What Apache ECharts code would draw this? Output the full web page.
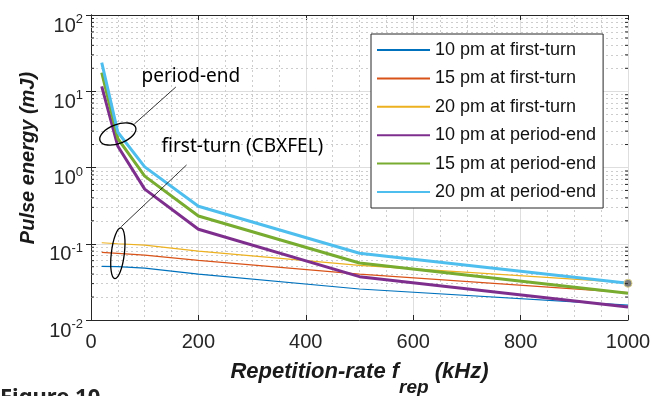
<!DOCTYPE html>
<html>
<head>
<meta charset="utf-8">
<script src="https://cdn.jsdelivr.net/npm/echarts@6/dist/echarts.min.js"></script>
<style>
html,body{margin:0;padding:0;background:#fff;}
#c{width:669px;height:396px;}
</style>
</head>
<body>
<div id="c"></div>
<script>
// ---- data ----
const xVals = [20, 50, 100, 200, 500, 1000];           // repetition rate (kHz)
const ft10 = [0.0506, 0.0500, 0.0478, 0.0400, 0.0255, 0.0157];
const ft15 = [0.0770, 0.0750, 0.0710, 0.0605, 0.0400, 0.0228];
const ft20 = [0.1030, 0.1000, 0.0960, 0.0800, 0.0520, 0.0310];
const pe10 = [11.6, 1.90, 0.52, 0.155, 0.0370, 0.0148];
const pe15 = [17.6, 2.40, 0.77, 0.231, 0.0560, 0.0224];
const pe20 = [23.7, 2.90, 1.02, 0.310, 0.0750, 0.0303];
const seriesNames = ['10 pm at first-turn','15 pm at first-turn','20 pm at first-turn',
                     '10 pm at period-end','15 pm at period-end','20 pm at period-end'];
const seriesData = [ft10, ft15, ft20, pe10, pe15, pe20];
const seriesColors = ['#0072BD','#D95319','#EDB120','#7E2F8E','#77AC30','#4DBEEE'];
const seriesWidths = [1.2, 1.2, 1.2, 3, 3, 3];
const xTickInterval = 200;
const yMin = 0.01, yMax = 100;
const xTitle = ['Repetition-rate f', 'rep', ' (kHz)'];
const yTitle = 'Pulse energy (mJ)';
const annoText = ['period-end', 'first-turn (CBXFEL)'];
const annoAnchor = [[50, 2.75], [50, 0.075]];   // ellipse centres in data coords
const figureCaption = 'Figure 10';

// minor log grid values (2..9 x 10^k)
const yMinor = [];
for (let k = -2; k <= 1; k++) for (let m = 2; m <= 9; m++) yMinor.push(m * Math.pow(10, k));

const chart = echarts.init(document.getElementById('c'), null, {renderer: 'canvas'});
const axisColor = '#262626';
const FONT = '"Liberation Sans", Arial, sans-serif';

const series = seriesData.map((arr, i) => ({
  name: seriesNames[i],
  type: 'line',
  data: xVals.map((x, j) => {
    if (i === 5 && j === xVals.length - 1) {
      return {value: [x, arr[j]], symbol: 'circle', symbolSize: 8,
              itemStyle: {color: '#7a7a7a', borderColor: '#d8d08a', borderWidth: 1}};
    }
    return [x, arr[j]];
  }),
  symbol: 'none',
  showSymbol: true,
  lineStyle: {color: seriesColors[i], width: seriesWidths[i]},
  itemStyle: {color: seriesColors[i]},
  emphasis: {disabled: true},
  z: 3
}));
series.push({
  name: 'minorgrid', type: 'line', data: [], silent: true, z: 1,
  markLine: {
    silent: true, symbol: 'none', z: 1, animation: false,
    label: {show: false},
    lineStyle: {color: '#cdcdcd', type: [2, 3], width: 1},
    emphasis: {disabled: true},
    data: yMinor.map(v => ({yAxis: v}))
  }
});

const option = {
  animation: false,
  backgroundColor: '#ffffff',
  grid: {left: 91, top: 15, width: 537, height: 305, show: false, containLabel: false, outerBoundsMode: 'none'},
  legend: {
    data: seriesNames, orient: 'vertical', left: 371, top: 34,
    itemWidth: 53, itemHeight: 14, itemGap: 8.4,
    padding: [6, 7, 6, 5],
    backgroundColor: '#ffffff', borderColor: axisColor, borderWidth: 1, borderRadius: 0,
    selectedMode: false,
    itemStyle: {color: 'rgba(0,0,0,0)', borderWidth: 0, opacity: 0},
    textStyle: {fontSize: 18, fontFamily: FONT, color: '#111', lineHeight: 20}
  },
  xAxis: [{
    type: 'value', min: 0, max: 1000, interval: xTickInterval, position: 'bottom',
    axisLine: {show: true, lineStyle: {color: axisColor, width: 1}},
    axisTick: {show: true, inside: true, length: 5, lineStyle: {color: axisColor}},
    axisLabel: {fontSize: 20, fontFamily: FONT, color: axisColor, margin: 12, formatter: v => String(v)},
    splitLine: {show: true, lineStyle: {color: '#dedede', width: 1}},
    minorTick: {show: false, splitNumber: 4},
    minorSplitLine: {show: true, lineStyle: {color: '#cdcdcd', type: [2, 3], width: 1}},
    name: '{a|' + xTitle[0] + '}{b|' + xTitle[1] + '}{a|' + xTitle[2] + '}',
    nameLocation: 'middle', nameGap: 41,
    nameTextStyle: {
      rich: {
        a: {fontSize: 22, fontFamily: FONT, fontWeight: 'bold', fontStyle: 'italic', color: '#1a1a1a', verticalAlign: 'top', lineHeight: 24},
        b: {fontSize: 19, fontFamily: FONT, fontWeight: 'bold', fontStyle: 'italic', color: '#1a1a1a', verticalAlign: 'top', lineHeight: 20, padding: [17, 0, 0, 0]}
      }
    }
  }, {
    type: 'value', min: 0, max: 1000, interval: xTickInterval, position: 'top',
    axisLine: {show: true, lineStyle: {color: axisColor, width: 1}},
    axisTick: {show: true, inside: true, length: 5, lineStyle: {color: axisColor}},
    axisLabel: {show: false}, splitLine: {show: false}
  }],
  yAxis: [{
    type: 'log', logBase: 10, min: yMin, max: yMax, position: 'left',
    axisLine: {show: true, lineStyle: {color: axisColor, width: 1}},
    axisTick: {show: true, inside: true, length: 5, lineStyle: {color: axisColor}},
    splitLine: {show: true, lineStyle: {color: '#dedede', width: 1}},
    axisLabel: {
      margin: 8, color: axisColor, padding: [10, 0, 0, 0],
      formatter: v => '{b|10}{s|' + Math.round(Math.log10(v)) + '}',
      rich: {
        b: {fontSize: 20, fontFamily: FONT, color: axisColor, verticalAlign: 'top', lineHeight: 20, padding: [6, 0, 0, 0]},
        s: {fontSize: 13, fontFamily: FONT, color: axisColor, verticalAlign: 'top', lineHeight: 13, padding: [3, 0, 0, 0]}
      }
    }
  }, {
    type: 'log', logBase: 10, min: yMin, max: yMax, position: 'right',
    axisLine: {show: true, lineStyle: {color: axisColor, width: 1}},
    axisTick: {show: true, inside: true, length: 5, lineStyle: {color: axisColor}},
    axisLabel: {show: false}, splitLine: {show: false}
  }],
  series: series
};
chart.setOption(option);

// ---- annotations and decorations anchored via the library's scales ----
const g = [];
const left = chart.convertToPixel({xAxisIndex: 0}, 0);
const right = chart.convertToPixel({xAxisIndex: 0}, 1000);
yMinor.forEach(v => {
  const y = chart.convertToPixel({yAxisIndex: 0}, v);
  g.push({type: 'line', silent: true, z: 10, shape: {x1: left, y1: y, x2: left + 3, y2: y}, style: {stroke: axisColor, lineWidth: 1}});
  g.push({type: 'line', silent: true, z: 10, shape: {x1: right, y1: y, x2: right - 3, y2: y}, style: {stroke: axisColor, lineWidth: 1}});
});
const c1 = chart.convertToPixel({xAxisIndex: 0, yAxisIndex: 0}, annoAnchor[0]);
const c2 = chart.convertToPixel({xAxisIndex: 0, yAxisIndex: 0}, annoAnchor[1]);
const annoFont = '"Noto Sans", sans-serif';
g.push({type: 'ellipse', silent: true, z: 20, x: c1[0], y: c1[1], rotation: 0.36,
        shape: {cx: 0, cy: 0, rx: 19, ry: 9.5}, style: {fill: 'none', stroke: '#000', lineWidth: 1.3}});
g.push({type: 'line', silent: true, z: 20,
        shape: {x1: c1[0] + 16.5, y1: c1[1] - 10, x2: c1[0] + 58, y2: c1[1] - 47}, style: {stroke: '#000', lineWidth: 0.8}});
g.push({type: 'text', silent: true, z: 20, x: c1[0] + 23.7, y: c1[1] - 57,
        style: {text: annoText[0], fontSize: 19, fontFamily: annoFont, fill: '#000',
                textAlign: 'left', align: 'left', textVerticalAlign: 'middle', verticalAlign: 'middle'}});
g.push({type: 'ellipse', silent: true, z: 20, x: c2[0], y: c2[1], rotation: -0.12,
        shape: {cx: 0, cy: 0, rx: 6.5, ry: 25.5}, style: {fill: 'none', stroke: '#000', lineWidth: 1.3}});
g.push({type: 'line', silent: true, z: 20,
        shape: {x1: c2[0] + 3.4, y1: c2[1] - 26.6, x2: c2[0] + 68.7, y2: c2[1] - 88.3}, style: {stroke: '#000', lineWidth: 0.8}});
g.push({type: 'text', silent: true, z: 20, x: c2[0] + 43.7, y: c2[1] - 106.3,
        style: {text: annoText[1], fontSize: 19, fontFamily: annoFont, fill: '#000',
                textAlign: 'left', align: 'left', textVerticalAlign: 'middle', verticalAlign: 'middle'}});
g.push({type: 'text', silent: true, z: 20, x: 28, y: 158, rotation: Math.PI / 2,
        style: {text: yTitle, fontSize: 20, fontFamily: FONT, fontWeight: 'bold', fontStyle: 'italic', fill: '#1a1a1a',
                textAlign: 'center', align: 'center', textVerticalAlign: 'middle', verticalAlign: 'middle'}});
g.push({type: 'text', silent: true, z: 20, x: 0, y: 387,
        style: {text: figureCaption, fontSize: 22, fontFamily: annoFont, fontWeight: 'bold', fill: '#222',
                textAlign: 'left', align: 'left', textVerticalAlign: 'top', verticalAlign: 'top'}});
chart.setOption({graphic: g});
</script>
</body>
</html>
